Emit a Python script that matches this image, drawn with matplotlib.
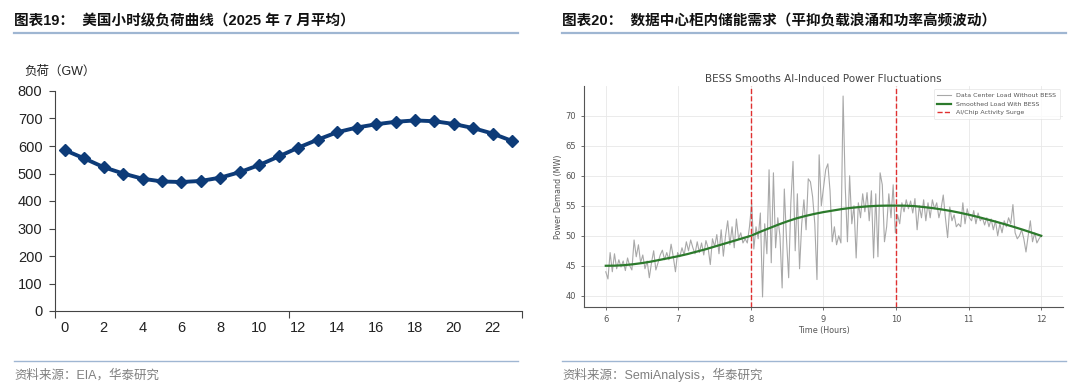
import numpy as np
import matplotlib.pyplot as plt
from matplotlib.lines import Line2D

# ---- 左图：美国小时级负荷 (GW) ----
horas = list(range(24))
carga_gw = [585, 555, 523, 500, 481, 471, 469, 473, 485, 505, 531, 562,
            594, 623, 650, 667, 679, 688, 693, 690, 680, 665, 645, 618]

# ---- 右图：BESS 平滑 ----
tempo = np.round(np.arange(6.0, 12.001, 0.03), 2)
carga_sem_bess = [
    # 6.00 - 6.99
    44.0, 42.8, 47.2, 44.0, 47.0, 44.5, 46.0, 44.8, 45.8, 44.2, 46.3, 45.0,
    44.3, 49.3, 46.5, 48.5, 45.5, 46.8, 44.5, 45.8, 43.0, 45.5, 47.5, 44.3,
    45.5, 46.8, 47.6, 46.0, 47.2, 46.0, 48.6, 46.5, 44.0, 47.2,
    # 7.02 - 7.98
    46.5, 48.0, 46.8, 49.0, 47.5, 49.3, 48.0, 47.0, 49.0, 47.2, 48.8, 46.8,
    49.2, 48.0, 45.2, 49.5, 48.2, 50.2, 47.0, 51.0, 46.6, 50.0, 52.5, 48.5,
    51.5, 48.0, 52.8, 49.5, 50.5, 48.8, 49.5, 48.8, 51.5,
    # 8.01 - 8.97
    55.4, 47.8, 51.5, 49.5, 53.8, 39.8, 52.0, 47.0, 61.0, 45.5, 60.5, 48.0,
    53.0, 50.0, 41.3, 57.8, 49.5, 43.0, 55.5, 62.4, 47.5, 57.0, 44.5, 52.0,
    56.0, 51.0, 59.5, 59.0, 56.5, 52.0, 42.7, 63.5, 55.0,
    # 9.00 - 9.99
    58.0, 61.0, 62.0, 57.5, 49.0, 51.5, 48.5, 50.0, 48.8, 73.3, 58.0, 49.0,
    60.0, 52.0, 55.0, 46.3, 55.5, 53.0, 57.0, 54.0, 57.2, 52.5, 57.5, 46.3,
    57.0, 46.5, 60.5, 58.5, 49.0, 51.5, 57.0, 53.0, 58.5, 50.5,
    # 10.02 - 10.98
    53.5, 52.0, 55.5, 54.0, 56.0, 54.5, 55.8, 53.8, 56.2, 51.0, 55.0, 53.0,
    56.0, 52.5, 55.5, 53.0, 56.0, 54.5, 55.5, 53.0, 54.5, 56.8, 53.0, 49.7,
    54.8, 52.5, 53.5, 51.5, 52.0, 51.5, 55.5, 52.0, 54.5,
    # 11.01 - 12.00
    53.0, 52.5, 54.2, 52.0, 53.8, 52.5, 53.0, 51.8, 53.0, 51.5, 52.8, 51.0,
    52.5, 50.0, 52.0, 50.5, 52.5, 51.5, 53.0, 52.0, 55.2, 50.5, 49.5, 50.0,
    51.0, 49.5, 47.3, 50.0, 52.5, 49.0, 50.5, 48.8, 49.5, 50.0,
]
tempo_suave = [6.0, 6.125, 6.25, 6.375, 6.5, 6.625, 6.75, 6.875, 7.0, 7.125,
               7.25, 7.375, 7.5, 7.625, 7.75, 7.875, 8.0, 8.125, 8.25, 8.375,
               8.5, 8.625, 8.75, 8.875, 9.0, 9.125, 9.25, 9.375, 9.5, 9.625,
               9.75, 9.875, 10.0, 10.125, 10.25, 10.375, 10.5, 10.625, 10.75,
               10.875, 11.0, 11.125, 11.25, 11.375, 11.5, 11.625, 11.75, 11.875,
               12.0]
carga_suave = [45.0, 45.02, 45.1, 45.25, 45.45, 45.7, 46.0, 46.3, 46.6, 46.95,
               47.35, 47.75, 48.2, 48.65, 49.1, 49.55, 50.0, 50.65, 51.25, 51.85,
               52.4, 52.9, 53.3, 53.65, 53.95, 54.2, 54.45, 54.65, 54.8, 54.92,
               55.0, 55.03, 55.03, 55.02, 54.95, 54.8, 54.62, 54.4, 54.15, 53.85,
               53.52, 53.15, 52.75, 52.35, 51.92, 51.47, 51.0, 50.5, 50.0]
surtos = [8, 10]

W, H = 1080, 391
fig = plt.figure(figsize=(W / 100, H / 100), dpi=100)

cjk = ['Liberation Sans', 'Noto Sans CJK SC']
azul_linha = '#9fb6d2'

def fx(px):
    return px / W

def fy(py):
    return 1 - py / H

# titulos e linhas
fig.text(fx(14), fy(21), '图表19：  美国小时级负荷曲线（2025 年 7 月平均）',
         family=cjk, fontsize=10.5, fontweight='bold', va='center', color='#111111')
fig.text(fx(562), fy(21), '图表20：  数据中心柜内储能需求（平抑负载浪涌和功率高频波动）',
         family=cjk, fontsize=10.5, fontweight='bold', va='center', color='#111111')
for x0, x1 in [(14, 518), (562, 1066)]:
    fig.add_artist(Line2D([fx(x0), fx(x1)], [fy(33), fy(33)], color=azul_linha, lw=1.6))
    fig.add_artist(Line2D([fx(x0), fx(x1)], [fy(361), fy(361)], color=azul_linha, lw=1.0))
fig.text(fx(14), fy(375), '资料来源：EIA，华泰研究', family=cjk, fontsize=9,
         va='center', color='#808080')
fig.text(fx(562), fy(375), '资料来源：SemiAnalysis，华泰研究', family=cjk, fontsize=9,
         va='center', color='#808080')

# ---- painel esquerdo ----
ax = fig.add_axes([fx(55), fy(311), fx(467), (311 - 91) / H])
ax.plot(horas, carga_gw, color='#0d3b78', lw=2.8, marker='D', markersize=6.5)
ax.set_xlim(-0.5, 23.5)
ax.set_ylim(0, 800)
ax.set_yticks(range(0, 801, 100))
ax.set_xticks(range(0, 23, 2))
ax.set_xticks([-0.5, 11.5, 23.5], minor=True)
ax.tick_params(axis='x', which='major', length=0, pad=7)
ax.tick_params(axis='x', which='minor', length=5, width=0.8, color='#444444')
ax.tick_params(axis='y', length=4, width=0.8, color='#444444', pad=5)
for lbl in ax.get_xticklabels() + ax.get_yticklabels():
    lbl.set_family('Liberation Sans')
    lbl.set_fontsize(10.5)
    lbl.set_color('#222222')
for s in ['top', 'right']:
    ax.spines[s].set_visible(False)
for s in ['left', 'bottom']:
    ax.spines[s].set_color('#444444')
    ax.spines[s].set_linewidth(0.8)
fig.text(fx(24), fy(72), '负荷（GW）', family=cjk, fontsize=9, va='center', color='#222222')

# ---- painel direito (grafico embutido) ----
ax2 = fig.add_axes([fx(584), fy(307), fx(479), (307 - 86) / H])
ax2.plot(tempo, carga_sem_bess, color='#a8a8a8', lw=0.8,
         label='Data Center Load Without BESS')
ax2.plot(tempo_suave, carga_suave, color='#2c7a2c', lw=1.6,
         label='Smoothed Load With BESS')
for i, t in enumerate(surtos):
    ax2.axvline(t, color='#e03030', ls='--', lw=1.0,
                label='AI/Chip Activity Surge' if i == 0 else None)
ax2.set_xticks(range(6, 13))
ax2.set_yticks(range(40, 71, 5))
ax2.grid(color='#e8e8e8', lw=0.6)
ax2.set_axisbelow(True)
ax2.tick_params(labelsize=6, colors='#555555', length=2, width=0.6)
for s in ['top', 'right']:
    ax2.spines[s].set_visible(False)
for s in ['left', 'bottom']:
    ax2.spines[s].set_color('#555555')
    ax2.spines[s].set_linewidth(0.8)
ax2.set_title('BESS Smooths AI-Induced Power Fluctuations', fontsize=7.5,
              color='#444444', pad=3)
ax2.set_xlabel('Time (Hours)', fontsize=5.8, color='#555555', labelpad=1.5)
ax2.set_ylabel('Power Demand (MW)', fontsize=5.8, color='#555555', labelpad=2)
leg = ax2.legend(loc='upper right', fontsize=4.5, frameon=True, handlelength=2.2,
                 borderpad=0.6, labelspacing=0.5)
leg.get_frame().set_edgecolor('#dddddd')
leg.get_frame().set_linewidth(0.5)
for t in leg.get_texts():
    t.set_color('#555555')

fig.savefig('out.png', dpi=100)
